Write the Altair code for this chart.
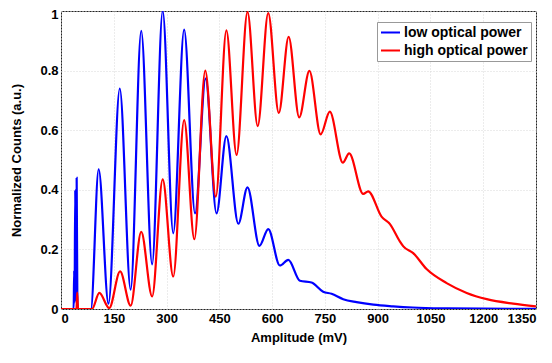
import altair as alt
import pandas as pd

series = ["low optical power", "high optical power"]
colors = ["#0000ff", "#ff0000"]
x_ticks = [0, 150, 300, 450, 600, 750, 900, 1050, 1200, 1350]
y_ticks = [0, 0.2, 0.4, 0.6, 0.8, 1.0]

low_x = [0, 36, 37.5, 38.5, 40.5, 42, 44.5, 46.5, 49, 85, 107, 135, 167, 198, 228,
         259, 289, 319, 350, 381, 411, 442, 470, 504, 530, 564, 589, 622, 646, 679,
         712, 745, 769, 802, 840, 888, 944, 1000, 1100, 1200, 1350]
low_y = [0, 0, 0.13, 0.02, 0.40, 0.03, 0.44, 0.02, 0, 0, 0.469, 0.018, 0.74, 0.065, 0.933,
         0.15, 1.0, 0.254, 0.9375, 0.321, 0.773, 0.321, 0.58, 0.286, 0.408, 0.212, 0.268, 0.146, 0.165, 0.095,
         0.089, 0.058, 0.051, 0.033, 0.023, 0.0145, 0.009, 0.005, 0.002, 0.001, 0.0005]

high_x = [0, 44, 46, 48.5, 88, 109, 137, 168, 198, 228, 259, 289, 319, 350, 379,
          410, 440, 470, 499, 530, 559, 589, 619, 647, 677, 706, 738, 764, 801, 819,
          859, 873, 911, 935, 963, 973, 1001, 1039, 1096, 1153, 1210, 1285, 1350]
high_y = [0, 0, 0.055, 0, 0, 0.054, 0.003, 0.126, 0.011, 0.259, 0.042, 0.435, 0.109, 0.634, 0.234,
          0.80, 0.377, 0.935, 0.517, 0.997, 0.614, 0.993, 0.658, 0.913, 0.643, 0.799, 0.586, 0.662, 0.491, 0.522,
          0.386, 0.395, 0.31, 0.285, 0.227, 0.21, 0.1875, 0.134, 0.087, 0.054, 0.033, 0.018, 0.009]

df_low = pd.DataFrame({"amp": low_x, "counts": low_y, "series": series[0]})
df_high = pd.DataFrame({"amp": high_x, "counts": high_y, "series": series[1]})

FONT = "Liberation Sans"

x_enc = alt.X("amp:Q", scale=alt.Scale(domain=[0, 1350], nice=False, zero=False),
              axis=alt.Axis(values=x_ticks, title="Amplitude (mV)", format="d",
                            labelPadding=3, titlePadding=6))
y_enc = alt.Y("counts:Q", scale=alt.Scale(domain=[0, 1], nice=False),
              axis=alt.Axis(values=y_ticks, title="Normalized Counts (a.u.)", format=".1~f",
                            labelPadding=3, titlePadding=16,
                            labelBaseline={"condition": {"test": "datum.value == 1", "value": "top"},
                                           "value": "middle"},
                            labelOffset={"condition": {"test": "datum.value == 1", "value": -3},
                                         "value": 0}))
color_enc = alt.Color("series:N", scale=alt.Scale(domain=series, range=colors),
                      legend=alt.Legend(title=None, orient="none", legendX=316, legendY=11,
                                        symbolType="stroke", symbolSize=361, symbolStrokeWidth=2,
                                        clipHeight=15,
                                        labelFont=FONT, labelFontSize=14, labelFontWeight="bold",
                                        labelColor="black", fillColor="white", strokeColor="#999999",
                                        padding=3, rowPadding=3, labelOffset=3))

base_line = dict(interpolate="monotone", strokeWidth=2.2, clip=True)

low = alt.Chart(df_low).mark_line(**base_line).encode(x=x_enc, y=y_enc, color=color_enc)
high = alt.Chart(df_high).mark_line(**base_line).encode(x=x_enc, y=y_enc, color=color_enc)

chart = alt.layer(low, high).properties(
    width=475, height=298,
    autosize=alt.AutoSizeParams(type="none"),
    padding={"left": 53, "top": 3, "right": 8, "bottom": 46},
    background="white",
).configure_view(
    stroke="#222222", strokeWidth=1
).configure_axis(
    labelFont=FONT, labelFontSize=13, labelFontWeight="bold", labelColor="black",
    titleFont=FONT, titleFontSize=13, titleFontWeight="bold", titleColor="black",
    grid=True, gridColor="#d9d9d9", gridDash=[1, 2], gridWidth=1,
    domain=False, ticks=False,
)

chart.save("out.html", embed_options={"renderer": "svg", "actions": False})
